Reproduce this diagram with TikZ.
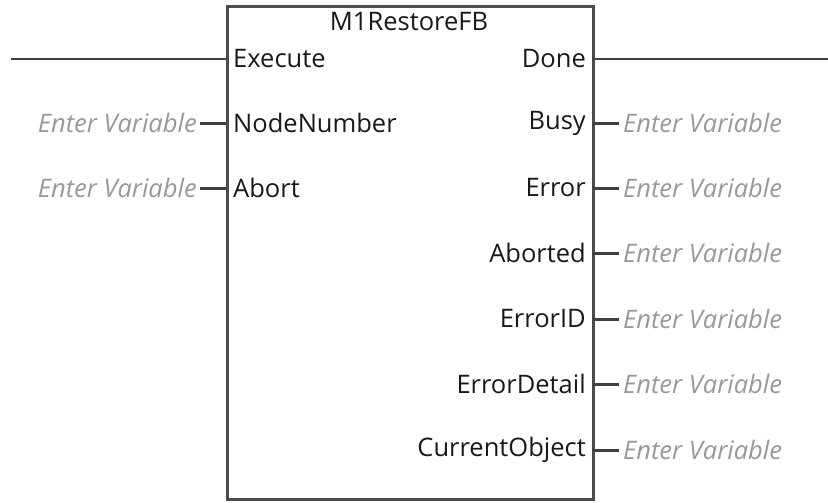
\documentclass[tikz,border=0pt]{standalone}
\usepackage{fontspec}
\setmainfont{Open Sans}
\begin{document}
\begin{tikzpicture}[x=1pt,y=-1pt,
  pin/.style={font=\fontsize{25.5}{28}\selectfont, text=black!90, inner sep=0pt},
  var/.style={font=\fontsize{25.5}{28}\selectfont\itshape, text=black!40, inner sep=0pt},
  wire/.style={draw=black!75, line width=2.8pt},
  stub/.style={draw=black!75, line width=3pt},
  fbbox/.style={draw=black!70, line width=3pt, fill=white}]
\useasboundingbox (0,0) rectangle (828,503);
% function block body
\node[fbbox, minimum width=366pt, minimum height=493pt, anchor=north west, inner sep=0pt] (fb) at (226,5) {};
\node[pin] (title) at (409,22) {M1RestoreFB};
% input pins
\node[pin, anchor=west] (exe) at (233,59) {Execute};
\node[pin, anchor=west] (nn) at (233,123) {NodeNumber};
\node[pin, anchor=west] (ab) at (233,188) {Abort};
% output pins
\node[pin, anchor=east] (done) at (586,59) {Done};
\node[pin, anchor=east] (busy) at (586,123) {Busy};
\node[pin, anchor=east] (err) at (586,188) {Error};
\node[pin, anchor=east] (abd) at (586,253) {Aborted};
\node[pin, anchor=east] (eid) at (586,319) {ErrorID};
\node[pin, anchor=east] (edt) at (586,384) {ErrorDetail};
\node[pin, anchor=east] (cur) at (586,450) {CurrentObject};
% pin connection points on the block edges
\foreach \n/\y in {exe/59, nn/123, ab/188} \coordinate (\n-p) at (226,\y);
\foreach \n/\y in {done/59, busy/123, err/188, abd/253, eid/319, edt/384, cur/450} \coordinate (\n-p) at (592,\y);
% rung wires
\coordinate (railL) at (11,59);
\coordinate (railR) at (828,59);
\draw[wire] (railL) -- (exe-p);
\draw[wire] (done-p) -- (railR);
% variable placeholders
\node[var, anchor=east] (vnn) at (197,123) {Enter Variable};
\node[var, anchor=east] (vab) at (197,188) {Enter Variable};
\draw[stub] (vnn.east) ++(3,0) coordinate (vnn-s) -- (nn-p);
\draw[stub] (vab.east) ++(3,0) coordinate (vab-s) -- (ab-p);
\foreach \n/\y in {busy/123, err/188, abd/253, eid/319, edt/384, cur/450}{
  \node[var, anchor=west] (v\n) at (623,\y) {Enter Variable};
  \draw[stub] (\n-p) -- ([xshift=-4pt]v\n.west);
}
\end{tikzpicture}
\end{document}
